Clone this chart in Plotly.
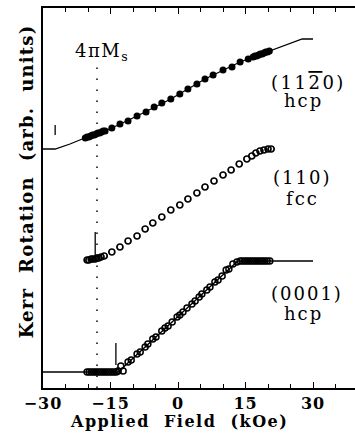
import plotly.graph_objects as go

# ---------------- data (field in kOe, Kerr rotation in arbitrary units) ----------------
# (11-20) hcp : fitted line and measured points
hcp1120_line_x = [-30.0, -27.3, -24.0, -20.2, -14.7, -9.1, -1.6, 6.0, 13.8, 20.4, 27.6, 30.0]
hcp1120_line_y = [239, 239, 244, 251, 260, 272, 289, 309, 326, 337, 349, 349]
hcp1120_x = [-20.6, -20.2, -19.8, -19.4, -19.0, -18.6, -18.2, -17.8, -17.4, -17.0, -16.6, -16.2,
             -14.7, -12.9, -11.1, -9.1, -7.1, -5.3, -3.6, -1.6, 0.4, 2.2, 4.2, 6.0, 7.8, 10.0,
             12.0, 13.8, 15.6, 16.7, 17.1, 17.5, 17.9, 18.3, 18.7, 19.1, 19.5, 19.9, 20.3]
hcp1120_y = [250, 251, 251, 252, 253, 253, 254, 255, 255, 256, 257, 257,
             260, 264, 267, 272, 276, 281, 285, 289, 294, 299, 304, 309, 313, 318,
             321, 326, 329, 331, 332, 332, 333, 334, 334, 335, 336, 336, 337]

# (110) fcc : measured points
fcc110_x = [-20.2, -19.8, -19.3, -18.9, -18.4, -18.0, -17.6, -17.1,
            -16.4, -14.7, -12.9, -11.1, -9.1, -7.3, -5.6, -3.6, -1.6, 0.4, 2.2, 4.2,
            6.0, 8.0, 10.0, 11.8, 13.6, 15.3, 16.4, 17.3, 18.2, 19.1, 20.0, 20.7]
fcc110_y = [128, 128, 129, 129, 129, 130, 130, 131,
            132, 136, 141, 147, 152, 159, 165, 171, 178, 183, 189, 195,
            201, 207, 213, 218, 224, 229, 232, 235, 237, 238, 239, 239]

# (0001) hcp : fitted line and measured points
hcp0001_line_x = [-30.0, -13.3, 13.3, 30.0]
hcp0001_line_y = [16, 16, 127, 127]
hcp0001_x = [-20.2, -19.7, -19.2, -18.7, -18.2, -17.7, -17.2, -16.7, -16.2, -15.7, -15.2,
             -14.7, -14.2, -13.7, -13.3,
             -12.7, -12.2, -11.1, -10.4, -9.1, -8.4, -7.3, -6.7, -5.6, -4.9, -3.6, -2.9,
             -2.2, -1.3, -0.2, 0.4, 1.1, 2.0, 3.1, 3.8, 4.7, 5.3, 6.4, 7.1, 8.2, 8.9,
             9.8, 10.7, 11.3, 12.2, 13.1,
             13.8, 14.3, 14.8, 15.3, 15.8, 16.3, 16.8, 17.3, 17.8, 18.3, 18.8, 19.3, 19.8, 20.4]
hcp0001_y = [16, 16, 16, 16, 16, 16, 16, 16, 16, 16, 16,
             16, 16, 16, 17,
             22, 17, 26, 28, 34, 36, 41, 44, 49, 51, 57, 60,
             62, 66, 71, 73, 76, 80, 84, 87, 91, 94, 98, 101, 106, 108,
             112, 118, 119, 124, 126,
             127, 127, 127, 127, 127, 127, 127, 127, 127, 127, 127, 127, 127, 127]

# small vertical markers (field, lower end, upper end)
marker_x = [-27.3, -18.4, -13.8]
marker_y0 = [253, 131, 23]
marker_y1 = [263, 156, 45]

# saturation magnetisation 4πMs
ms_field = -18.0
ms_top = 323

# x-axis ticks
tick_vals = [-30, -15, 0, 15, 30]
tick_text = ["\u221230", "\u221215", "0", "15", "30"]

SERIF = "DejaVu Serif"


def spaced(txt, px, bold=False):
    s = '<span style="letter-spacing:%spx">%s</span>' % (px, txt)
    return "<b>%s</b>" % s if bold else s


fig = go.Figure()

fig.add_trace(go.Scatter(x=hcp1120_line_x, y=hcp1120_line_y, mode="lines",
                         line=dict(color="black", width=1.3), showlegend=False))
fig.add_trace(go.Scatter(x=hcp1120_x, y=hcp1120_y, mode="markers",
                         marker=dict(symbol="circle", size=7, color="black"), showlegend=False))
fig.add_trace(go.Scatter(x=fcc110_x, y=fcc110_y, mode="markers",
                         marker=dict(symbol="circle-open", size=6, color="black",
                                     line=dict(width=1.7, color="black")), showlegend=False))
fig.add_trace(go.Scatter(x=hcp0001_line_x, y=hcp0001_line_y, mode="lines",
                         line=dict(color="black", width=1.3), showlegend=False))
fig.add_trace(go.Scatter(x=hcp0001_x, y=hcp0001_y, mode="markers",
                         marker=dict(symbol="circle-open", size=6, color="black",
                                     line=dict(width=1.5, color="black")), showlegend=False))

for mx, a, b in zip(marker_x, marker_y0, marker_y1):
    fig.add_trace(go.Scatter(x=[mx, mx], y=[a, b], mode="lines",
                             line=dict(color="black", width=1.3), showlegend=False))

fig.add_trace(go.Scatter(x=[ms_field, ms_field], y=[0, ms_top], mode="lines",
                         line=dict(color="black", width=1.5, dash="1.5px,9.5px"),
                         showlegend=False))

annots = [
    dict(x=-17.1, y=336, text='<span style="letter-spacing:1.5px">4\u03c0M</span><sub>s</sub>', size=18),
    dict(x=29.1, y=306, text='<span style="letter-spacing:2.5px">(11</span>'
                             '<span style="text-decoration:overline;letter-spacing:2.5px">2</span>'
                             '<span style="letter-spacing:2.5px">0)</span>', size=18),
    dict(x=27.8, y=288, text=spaced("hcp", 2), size=18),
    dict(x=27.6, y=211, text=spaced("(110)", 2), size=18),
    dict(x=27.6, y=190, text=spaced("fcc", 2), size=18),
    dict(x=28.7, y=95, text=spaced("(0001)", 2), size=18),
    dict(x=27.8, y=75, text=spaced("hcp", 2), size=18),
]
for a in annots:
    fig.add_annotation(x=a["x"], y=a["y"], xref="x", yref="y", text=a["text"],
                       showarrow=False, xanchor="center", yanchor="middle",
                       font=dict(family=SERIF, size=a["size"], color="black"))

fig.add_annotation(x=-0.053, y=0.545, xref="paper", yref="paper",
                   text=spaced("Kerr  Rotation  (arb.  units)", 1.2, bold=True), textangle=-90,
                   showarrow=False, xanchor="center", yanchor="middle",
                   font=dict(family=SERIF, size=18, color="black"))
fig.add_annotation(x=0.11, y=-0.087, xref="x", yref="paper",
                   text=spaced("Applied  Field  (kOe)", 1.5, bold=True),
                   showarrow=False, xanchor="center", yanchor="middle",
                   font=dict(family=SERIF, size=16, color="black"))

fig.update_layout(
    width=355, height=436,
    margin=dict(l=43, r=0, t=8, b=48),
    paper_bgcolor="white", plot_bgcolor="white",
    xaxis=dict(range=[-30, 39.33], showgrid=False, zeroline=False,
               showline=True, linecolor="black", linewidth=1.5, mirror="ticks",
               ticks="inside", ticklen=6, tickwidth=1.3, tickcolor="black",
               tickvals=tick_vals, ticktext=[spaced(t, 1, bold=True) for t in tick_text],
               tickfont=dict(family=SERIF, size=16, color="black"),
               minor=dict(dtick=5, tick0=0, ticks="inside", ticklen=4,
                          tickwidth=1.3, tickcolor="black", showgrid=False)),
    yaxis=dict(range=[0, 380], showgrid=False, zeroline=False,
               showline=True, linecolor="black", linewidth=1.5,
               ticks="", showticklabels=False),
)

fig.write_html("out.html")
